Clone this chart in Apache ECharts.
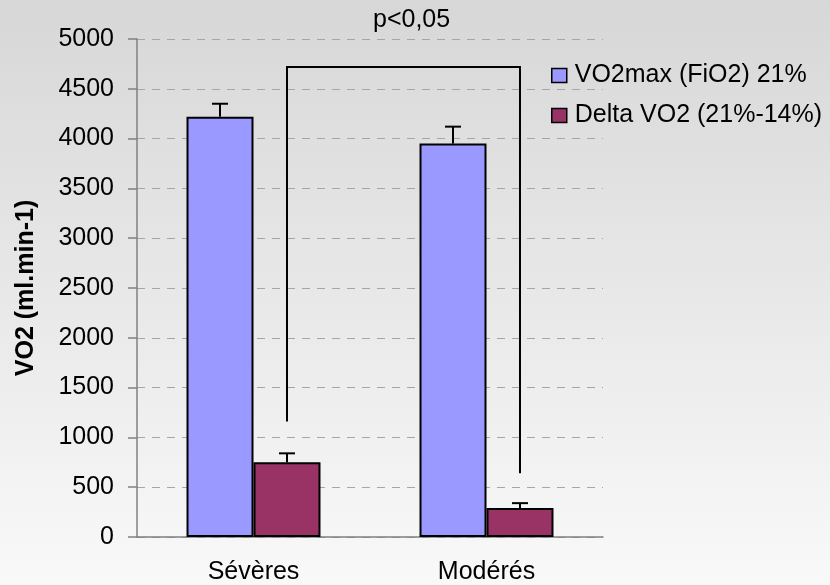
<!DOCTYPE html>
<html>
<head>
<meta charset="utf-8">
<script src="https://cdn.jsdelivr.net/npm/echarts@6/dist/echarts.min.js"></script>
<style>
html, body { margin: 0; padding: 0; }
#chart { width: 830px; height: 585px; }
</style>
</head>
<body>
<div id="chart"></div>
<script>
// données
var categories = ['Sévères', 'Modérés'];
var seriesNames = ['VO2max (FiO2) 21%', 'Delta VO2 (21%-14%)'];
var vo2max = [4220, 3950];
var vo2maxErr = [4350, 4120];   // haut des barres d'erreur
var deltaVo2 = [750, 290];
var deltaVo2Err = [840, 340];
var bracketTop = 4720;          // ligne horizontale du crochet
var bracketEnds = [1160, 640];  // bas des deux branches
var pLabel = 'p<0,05';

var font = 'Liberation Sans, Arial, sans-serif';
var fs = 25;
var gapRatio = 0.425; // barCategoryGap

// décalage du centre d'une barre par rapport au centre de la catégorie
function barOffset(api, side) {
    var band = api.size([1, 0])[0];
    return side * band * (1 - gapRatio) / 4;
}

function errorSeries(name, values, tops, side) {
    return {
        name: name + ' err',
        type: 'custom',
        z: 5,
        data: values.map(function (v, i) { return [i, v, tops[i]]; }),
        renderItem: function (params, api) {
            var off = barOffset(api, side);
            var base = api.coord([api.value(0), api.value(1)]);
            var top = api.coord([api.value(0), api.value(2)]);
            var x = base[0] + off;
            var style = { stroke: '#000', lineWidth: 2 };
            return {
                type: 'group',
                children: [
                    { type: 'line', shape: { x1: x, y1: base[1], x2: x, y2: top[1] }, style: style },
                    { type: 'line', shape: { x1: x - 8, y1: top[1], x2: x + 8, y2: top[1] }, style: style }
                ]
            };
        }
    };
}

var option = {
    backgroundColor: {
        type: 'linear', x: 0, y: 0, x2: 0, y2: 1,
        colorStops: [{ offset: 0, color: '#d7d7d7' }, { offset: 1, color: '#f9f9f9' }]
    },
    textStyle: { fontFamily: font },
    title: {
        text: pLabel,
        left: 373,
        top: 8,
        padding: 0,
        textStyle: { fontFamily: font, fontSize: fs, fontWeight: 'normal', color: '#000' }
    },
    legend: {
        orient: 'vertical',
        left: 551,
        top: 63,
        padding: 0,
        icon: 'rect',
        itemWidth: 15,
        itemHeight: 14,
        itemGap: 15,
        data: seriesNames,
        itemStyle: { borderColor: '#000', borderWidth: 1.5 },
        textStyle: { fontFamily: font, fontSize: fs, color: '#000', padding: [0, 0, 0, 3] }
    },
    grid: { left: 137, right: 227, top: 39, bottom: 48, outerBoundsMode: 'none', containLabel: false },
    xAxis: {
        type: 'category',
        data: categories,
        axisLine: { lineStyle: { color: '#808080', width: 1.5 } },
        axisTick: { length: 9, lineStyle: { color: '#808080', width: 1.5 } },
        axisLabel: { margin: 23, fontSize: fs, color: '#000', fontFamily: font }
    },
    yAxis: {
        type: 'value',
        min: 0,
        max: 5000,
        interval: 500,
        name: 'VO2 (ml.min-1)',
        nameLocation: 'middle',
        nameGap: 98,
        nameTextStyle: { fontSize: fs, fontWeight: 'bold', color: '#000', fontFamily: font },
        axisLine: { show: true, lineStyle: { color: '#808080', width: 1.5 } },
        axisTick: { show: true, length: 9, lineStyle: { color: '#808080', width: 1.5 } },
        axisLabel: {
            margin: 23, fontSize: fs, color: '#000', fontFamily: font,
            formatter: function (v) { return String(v); }
        },
        splitLine: { lineStyle: { color: '#a6a6a6', width: 1, type: [8, 7] } }
    },
    series: [
        {
            name: seriesNames[0],
            type: 'bar',
            data: vo2max,
            barGap: 0,
            barCategoryGap: (gapRatio * 100) + '%',
            itemStyle: { color: '#9999ff', borderColor: '#000', borderWidth: 2 }
        },
        {
            name: seriesNames[1],
            type: 'bar',
            data: deltaVo2,
            barGap: 0,
            barCategoryGap: (gapRatio * 100) + '%',
            itemStyle: { color: '#993366', borderColor: '#000', borderWidth: 2 }
        },
        errorSeries(seriesNames[0], vo2max, vo2maxErr, -1),
        errorSeries(seriesNames[1], deltaVo2, deltaVo2Err, 1),
        {
            // crochet de significativité entre les deux barres Delta
            name: 'bracket',
            type: 'custom',
            z: 5,
            data: [[0, bracketEnds[0], bracketTop, bracketEnds[1]]],
            renderItem: function (params, api) {
                var off = barOffset(api, 1);
                var a = api.coord([0, api.value(1)]);
                var b = api.coord([0, api.value(2)]);
                var c = api.coord([1, api.value(2)]);
                var d = api.coord([1, api.value(3)]);
                return {
                    type: 'polyline',
                    shape: { points: [[a[0] + off, a[1]], [b[0] + off, b[1]], [c[0] + off, c[1]], [d[0] + off, d[1]]] },
                    style: { stroke: '#000', lineWidth: 2, fill: null }
                };
            }
        }
    ]
};

var myChart = echarts.init(document.getElementById('chart'));
myChart.setOption(option);
window.addEventListener('resize', function () {
    myChart.resize();
});
</script>
</body>
</html>
